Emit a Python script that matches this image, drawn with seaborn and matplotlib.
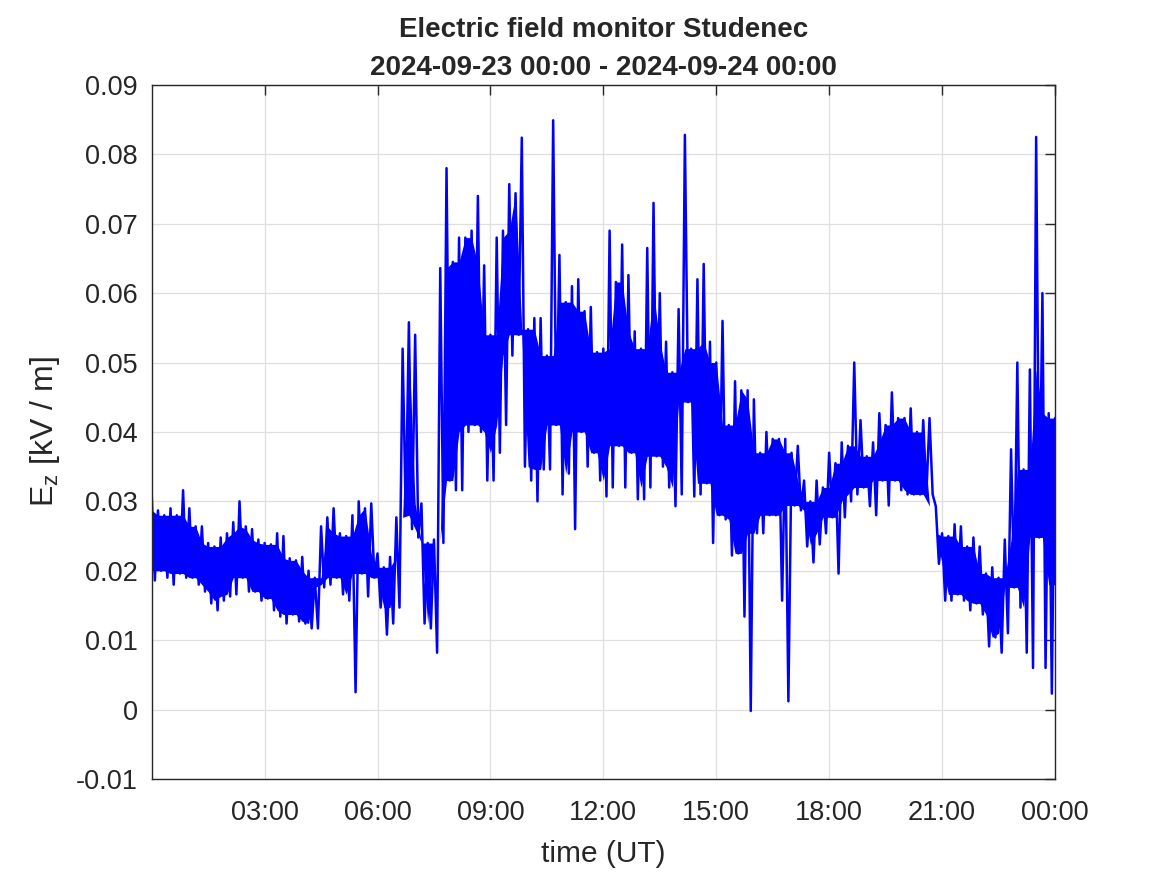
import numpy as np
import pandas as pd
import matplotlib
matplotlib.use("Agg")
import matplotlib.pyplot as plt
import seaborn as sns

# upper / lower envelope of Ez [kV/m], read every 10 minutes from 00:00 to 24:00
ez_high = [
    0.0310, 0.0287, 0.0280, 0.0290, 0.0280, 0.0316, 0.0290, 0.0264, 0.0264, 0.0240,
    0.0235, 0.0248, 0.0254, 0.0270, 0.0300, 0.0264, 0.0260, 0.0245, 0.0240, 0.0238,
    0.0254, 0.0250, 0.0218, 0.0215, 0.0220, 0.0200, 0.0190, 0.0264, 0.0277, 0.0290,
    0.0254, 0.0250, 0.0280, 0.0300, 0.0290, 0.0297, 0.0225, 0.0205, 0.0220, 0.0277,
    0.0520, 0.0558, 0.0540, 0.0297, 0.0240, 0.0245, 0.0636, 0.0780, 0.0645,
    0.0680, 0.0680, 0.0690, 0.0740, 0.0640, 0.0540, 0.0680, 0.0690, 0.0757, 0.0744,
    0.0824, 0.0548, 0.0564, 0.0564, 0.0510, 0.0849, 0.0655, 0.0587, 0.0610, 0.0620,
    0.0574, 0.0580, 0.0515, 0.0520, 0.0690, 0.0616, 0.0670, 0.0626, 0.0545, 0.0520,
    0.0665, 0.0730, 0.0600, 0.0530, 0.0486, 0.0577, 0.0828, 0.0520, 0.0620, 0.0642,
    0.0530, 0.0500, 0.0560, 0.0410, 0.0473, 0.0460, 0.0460,
    0.0447, 0.0370, 0.0400, 0.0390, 0.0390, 0.0390, 0.0370, 0.0380, 0.0330, 0.0300,
    0.0330, 0.0320, 0.0370, 0.0355, 0.0385, 0.0380, 0.0500, 0.0417, 0.0365, 0.0385,
    0.0427, 0.0410, 0.0457, 0.0420, 0.0420, 0.0434, 0.0400, 0.0417, 0.0420, 0.0293,
    0.0254, 0.0250, 0.0267, 0.0264, 0.0235, 0.0248, 0.0235, 0.0196, 0.0205, 0.0190,
    0.0245, 0.0375, 0.0500, 0.0346, 0.0490, 0.0825, 0.0600, 0.0427, 0.0420,
]
ez_low = [
    0.0186, 0.0200, 0.0190, 0.0180, 0.0196, 0.0190, 0.0190, 0.0180, 0.0170, 0.0153,
    0.0143, 0.0157, 0.0163, 0.0166, 0.0190, 0.0170, 0.0170, 0.0157, 0.0160, 0.0143,
    0.0134, 0.0124, 0.0137, 0.0127, 0.0124, 0.0117, 0.0117, 0.0176, 0.0180, 0.0190,
    0.0166, 0.0157, 0.0025, 0.0196, 0.0163, 0.0190, 0.0147, 0.0108, 0.0124, 0.0147,
    0.0280, 0.0260, 0.0248, 0.0124, 0.0117, 0.0082, 0.0240, 0.0330, 0.0316,
    0.0316, 0.0400, 0.0410, 0.0400, 0.0330, 0.0330, 0.0370, 0.0410, 0.0510, 0.0540,
    0.0350, 0.0330, 0.0300, 0.0346, 0.0346, 0.0410, 0.0310, 0.0340, 0.0260, 0.0400,
    0.0350, 0.0370, 0.0330, 0.0307, 0.0320, 0.0380, 0.0320, 0.0370, 0.0303, 0.0303,
    0.0320, 0.0365, 0.0350, 0.0320, 0.0293, 0.0310, 0.0443, 0.0307, 0.0310, 0.0326,
    0.0240, 0.0280, 0.0274, 0.0222, 0.0225, 0.0134, -0.0002,
    0.0254, 0.0254, 0.0280, 0.0280, 0.0157, 0.0012, 0.0294, 0.0287, 0.0235, 0.0212,
    0.0238, 0.0254, 0.0277, 0.0196, 0.0277, 0.0300, 0.0310, 0.0320, 0.0293, 0.0280,
    0.0330, 0.0294, 0.0330, 0.0316, 0.0310, 0.0310, 0.0310, 0.0310, 0.0310, 0.0210,
    0.0157, 0.0157, 0.0166, 0.0157, 0.0143, 0.0153, 0.0137, 0.0091, 0.0104, 0.0082,
    0.0110, 0.0176, 0.0147, 0.0082, 0.0060, 0.0248, 0.0060, 0.0023, 0.0180,
]

hour_ticks = [3, 6, 9, 12, 15, 18, 21, 24]
hour_labels = ["03:00", "06:00", "09:00", "12:00", "15:00", "18:00", "21:00", "00:00"]
ez_ticks = [-0.01, 0, 0.01, 0.02, 0.03, 0.04, 0.05, 0.06, 0.07, 0.08, 0.09]

#high sample at each 10 min mark, low sample 5 min later
minutes = np.arange(len(ez_high)) * 10
t_high = minutes / 60
t_low = (minutes + 5) / 60
t = np.empty(2 * len(ez_high))
t[0::2] = t_high
t[1::2] = t_low
ez = np.empty(2 * len(ez_high))
ez[0::2] = ez_high
ez[1::2] = ez_low
df = pd.DataFrame({"time": t, "ez": ez})

# solid core of the band (spikes are left to the line)
core_top = pd.Series(ez_high).rolling(3, center=True, min_periods=1).min().values
core_bot = pd.Series(ez_low).rolling(3, center=True, min_periods=1).max().values
core_bot = np.minimum(core_bot, core_top)

sns.set_style("white")
plt.rcParams['font.family'] = ['Liberation Sans', 'DejaVu Sans']
plt.rcParams['mathtext.default'] = 'regular'
plt.rcParams['axes.unicode_minus'] = False

fig = plt.figure(figsize=(11.67, 8.75), dpi=100)
ax = fig.add_axes([0.130, 0.1097, 0.774, 0.7933])

ax.fill_between(t_high, core_bot, core_top, color="#0000FF", linewidth=0)
sns.lineplot(data=df, x="time", y="ez", color="#0000FF", linewidth=1.8,
             sort=False, estimator=None, ax=ax)

ax.set_xlim(0, 24)
ax.set_ylim(-0.01, 0.09)
ax.set_xticks(hour_ticks)
ax.set_xticklabels(hour_labels)
ax.set_yticks(ez_ticks)
ax.set_yticklabels([f"{v:g}" for v in ez_ticks])

ax.grid(True, color="#DFDFDF", linewidth=0.9)
ax.set_axisbelow(True)
ax.tick_params(direction="in", length=7, width=1, top=True, right=True,
               labelsize=19.5, colors="#262626")
ax.tick_params(axis="x", pad=15)
ax.tick_params(axis="y", pad=10)
for s in ax.spines.values():
    s.set_color("#262626")
    s.set_linewidth(1)

ax.set_xlabel("time (UT)", fontsize=21.5, color="#262626", labelpad=10)
ax.set_ylabel(r"$E_z$ [kV / m]", fontsize=23, color="#262626", labelpad=10)
ax.set_title("Electric field monitor Studenec\n2024-09-23 00:00 - 2024-09-24 00:00",
             fontsize=20, fontweight="bold", pad=7, linespacing=1.6)

fig.savefig("out.png", dpi=100)
